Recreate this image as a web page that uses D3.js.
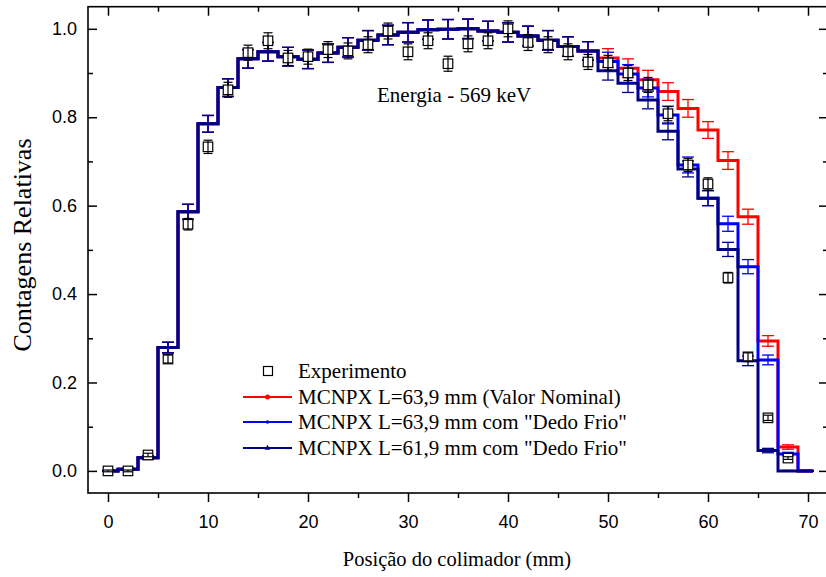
<!DOCTYPE html>
<html><head><meta charset="utf-8">
<script src="https://cdn.jsdelivr.net/npm/d3@7"></script>
<style>body{margin:0;background:#fff}svg{display:block}</style>
</head><body>
<svg id="chart" width="826" height="577"></svg>
<script>
// ---------- data ----------
const simX = [0,2,4,6,8,10,12,14,16,18,20,22,24,26,28,30,32,34,36,38,40,42,44,46,48,50,52,54,56,58,60,62,64,66,68,70];
const navyVals = [0.0,0.004,0.03,0.279,0.586,0.785,0.867,0.932,0.948,0.937,0.931,0.945,0.958,0.974,0.986,0.992,0.998,0.999,1.0,0.995,0.992,0.984,0.974,0.96,0.95,0.905,0.877,0.839,0.768,0.683,0.617,0.501,0.249,0.046,0.0,0.0];
const blueVals = [0.0,0.004,0.03,0.279,0.586,0.785,0.867,0.932,0.948,0.937,0.931,0.945,0.958,0.974,0.986,0.992,0.998,0.999,1.0,0.995,0.992,0.984,0.974,0.96,0.95,0.926,0.898,0.866,0.805,0.692,0.617,0.559,0.462,0.251,0.038,0.0];
const redVals = [0.0,0.004,0.03,0.279,0.586,0.785,0.867,0.932,0.948,0.937,0.931,0.945,0.958,0.974,0.986,0.992,0.998,0.999,1.0,0.995,0.992,0.984,0.974,0.96,0.95,0.934,0.911,0.885,0.858,0.82,0.771,0.702,0.575,0.294,0.054,0.0];
const navyErr = [0.001,0.002,0.004,0.012,0.017,0.019,0.02,0.021,0.021,0.021,0.021,0.021,0.022,0.022,0.022,0.022,0.022,0.022,0.022,0.022,0.022,0.022,0.022,0.022,0.021,0.021,0.021,0.02,0.019,0.018,0.017,0.016,0.011,0.005,0.001,0.001];
const blueErr = [0.001,0.002,0.004,0.012,0.017,0.019,0.02,0.021,0.021,0.021,0.021,0.021,0.022,0.022,0.022,0.022,0.022,0.022,0.022,0.022,0.022,0.022,0.022,0.022,0.021,0.021,0.021,0.02,0.02,0.018,0.017,0.017,0.016,0.011,0.004,0.001];
const redErr = [0.001,0.002,0.004,0.012,0.017,0.019,0.02,0.021,0.021,0.021,0.021,0.021,0.022,0.022,0.022,0.022,0.022,0.022,0.022,0.022,0.022,0.022,0.022,0.022,0.021,0.021,0.021,0.021,0.02,0.02,0.019,0.02,0.017,0.012,0.005,0.001];
const expX = [0,2,4,6,8,10,12,14,16,18,20,22,24,26,28,30,32,34,36,38,40,42,44,46,48,50,52,54,56,58,60,62,64,66,68];
const expVals = [0.0,0.0,0.036,0.253,0.558,0.733,0.862,0.946,0.973,0.934,0.937,0.953,0.95,0.964,0.995,0.948,0.973,0.921,0.966,0.973,1.0,0.969,0.964,0.948,0.925,0.923,0.90,0.873,0.808,0.692,0.649,0.437,0.258,0.12,0.029];
const expErr = [0.002,0.002,0.004,0.009,0.013,0.015,0.017,0.017,0.018,0.017,0.017,0.018,0.018,0.018,0.018,0.018,0.018,0.017,0.018,0.018,0.018,0.018,0.018,0.018,0.017,0.017,0.017,0.017,0.016,0.015,0.014,0.012,0.009,0.006,0.003];
const xTicks = [0,10,20,30,40,50,60,70];
const yTicks = [0.0,0.2,0.4,0.6,0.8,1.0];
const seriesNames = ["MCNPX L=63,9 mm (Valor Nominal)", "MCNPX L=63,9 mm com \"Dedo Frio\"", "MCNPX L=61,9 mm com \"Dedo Frio\""];
const seriesColors = ["#ff0000", "#0000ff", "#000080"];
const expName = "Experimento";
const titleText = "Energia - 569 keV";
const xTitle = "Posição do colimador (mm)";
const yTitle = "Contagens Relativas";

// ---------- layout ----------
const svg = d3.select("#chart");
const L = 88, R = 828, T = 6.7, B = 493;
const x = d3.scaleLinear().domain([-2, 72]).range([L, R]);
const y = d3.scaleLinear().domain([-0.05, 1.05]).range([B, T]);
const SANS = "'Liberation Sans', Arial, sans-serif";
const SERIF = "'Liberation Serif', 'Times New Roman', serif";

// ---------- series ----------
function stepPoints(xs, vs) {
  const pts = [];
  const n = xs.length;
  for (let i = 0; i < n; i++) {
    const left = i === 0 ? xs[0] - 0.5 : (xs[i - 1] + xs[i]) / 2;
    const right = i === n - 1 ? xs[i] + 0.5 : (xs[i] + xs[i + 1]) / 2;
    pts.push([left, vs[i]], [right, vs[i]]);
  }
  return pts;
}
const line = d3.line().x(d => x(d[0])).y(d => y(d[1]));
const plot = svg.append("g");
const allSeries = [
  {vals: redVals, err: redErr, color: seriesColors[0]},
  {vals: blueVals, err: blueErr, color: seriesColors[1]},
  {vals: navyVals, err: navyErr, color: seriesColors[2]}
];
allSeries.forEach(s => {
  plot.append("path").attr("d", line(stepPoints(simX, s.vals)))
    .attr("fill", "none").attr("stroke", s.color).attr("stroke-width", 3)
    .attr("stroke-linejoin", "miter");
});
allSeries.forEach(s => {
  const g = plot.append("g").attr("stroke", s.color).attr("stroke-width", 1.3);
  simX.forEach((xv, i) => {
    const e = s.err[i];
    const cx = x(xv), y1 = y(s.vals[i] + e), y2 = y(s.vals[i] - e);
    g.append("line").attr("x1", cx).attr("x2", cx).attr("y1", y1).attr("y2", y2);
    g.append("line").attr("x1", cx - 6).attr("x2", cx + 6).attr("y1", y1).attr("y2", y1);
    g.append("line").attr("x1", cx - 6).attr("x2", cx + 6).attr("y1", y2).attr("y2", y2);
  });
});
// experiment
const eg = plot.append("g");
expX.forEach((xv, i) => {
  const cx = x(xv), cy = y(expVals[i]);
  eg.append("rect").attr("x", cx - 4.75).attr("y", cy - 4.75).attr("width", 9.5).attr("height", 9.5)
    .attr("fill", "#fff").attr("stroke", "#000").attr("stroke-width", 1.2);
  const y1 = y(expVals[i] + expErr[i]), y2 = y(expVals[i] - expErr[i]);
  const g = eg.append("g").attr("stroke", "#000").attr("stroke-width", 1.2);
  g.append("line").attr("x1", cx).attr("x2", cx).attr("y1", y1).attr("y2", y2);
  g.append("line").attr("x1", cx - 4.5).attr("x2", cx + 4.5).attr("y1", y1).attr("y2", y1);
  g.append("line").attr("x1", cx - 4.5).attr("x2", cx + 4.5).attr("y1", y2).attr("y2", y2);
});

// ---------- axes ----------
function styleAxis(g) {
  g.select(".domain").remove();
  g.selectAll("line").attr("stroke", "#000").attr("stroke-width", 1.5);
  g.selectAll("text").attr("font-family", SANS).attr("font-size", 18).attr("fill", "#000");
}
const xMinor = d3.range(5, 71, 10);
const yMinor = [0.1, 0.3, 0.5, 0.7, 0.9];
// bottom
svg.append("g").attr("transform", `translate(0,${B})`)
  .call(d3.axisBottom(x).tickValues(xTicks).tickFormat(d3.format("d")).tickSizeInner(9).tickPadding(13)).call(styleAxis);
svg.append("g").attr("transform", `translate(0,${B})`)
  .call(d3.axisBottom(x).tickValues(xMinor).tickFormat("").tickSizeInner(5)).call(styleAxis);
// top
svg.append("g").attr("transform", `translate(0,${T})`)
  .call(d3.axisTop(x).tickValues(xTicks).tickFormat("").tickSizeInner(-9)).call(styleAxis);
svg.append("g").attr("transform", `translate(0,${T})`)
  .call(d3.axisTop(x).tickValues(xMinor).tickFormat("").tickSizeInner(-5)).call(styleAxis);
// left
svg.append("g").attr("transform", `translate(${L},0)`)
  .call(d3.axisLeft(y).tickValues(yTicks).tickFormat(d3.format(".1f")).tickSizeInner(-9).tickPadding(11)).call(styleAxis);
svg.append("g").attr("transform", `translate(${L},0)`)
  .call(d3.axisLeft(y).tickValues(yMinor).tickFormat("").tickSizeInner(-5)).call(styleAxis);
// right
svg.append("g").attr("transform", `translate(${R},0)`)
  .call(d3.axisRight(y).tickValues(yTicks).tickFormat("").tickSizeInner(-9)).call(styleAxis);
svg.append("g").attr("transform", `translate(${R},0)`)
  .call(d3.axisRight(y).tickValues(yMinor).tickFormat("").tickSizeInner(-5)).call(styleAxis);
// frame
svg.append("rect").attr("x", L).attr("y", T).attr("width", R - L).attr("height", B - T)
  .attr("fill", "none").attr("stroke", "#000").attr("stroke-width", 1.6);

// ---------- texts ----------
svg.append("text").attr("x", 377).attr("y", 102).attr("font-family", SERIF).attr("font-size", 21)
  .text(titleText);
svg.append("text").attr("x", 457).attr("y", 566).attr("text-anchor", "middle")
  .attr("font-family", SERIF).attr("font-size", 20.5).text(xTitle);
svg.append("text").attr("transform", "translate(31,245) rotate(-90)").attr("text-anchor", "middle")
  .attr("font-family", SERIF).attr("font-size", 26).text(yTitle);

// ---------- legend ----------
const lg = svg.append("g").attr("font-family", SERIF).attr("font-size", 21);
const rowY = [371, 397, 422, 448];
lg.append("rect").attr("x", 263.5).attr("y", rowY[0] - 4.5).attr("width", 9).attr("height", 9)
  .attr("fill", "#fff").attr("stroke", "#000").attr("stroke-width", 1.2);
lg.append("text").attr("x", 298).attr("y", rowY[0] + 7).text(expName);
seriesNames.forEach((name, i) => {
  const yy = rowY[i + 1];
  lg.append("line").attr("x1", 243).attr("x2", 292).attr("y1", yy).attr("y2", yy)
    .attr("stroke", seriesColors[i]).attr("stroke-width", 2);
  if (i === 0) lg.append("circle").attr("cx", 267.5).attr("cy", yy).attr("r", 2.5).attr("fill", seriesColors[i]);
  else if (i === 1) lg.append("circle").attr("cx", 267.5).attr("cy", yy).attr("r", 1.8).attr("fill", seriesColors[i]);
  else lg.append("path").attr("d", d3.symbol(d3.symbolTriangle, 14)()).attr("transform", `translate(267.5,${yy})`).attr("fill", seriesColors[i]);
  lg.append("text").attr("x", 298).attr("y", yy + 7).text(name);
});
</script>
</body></html>
